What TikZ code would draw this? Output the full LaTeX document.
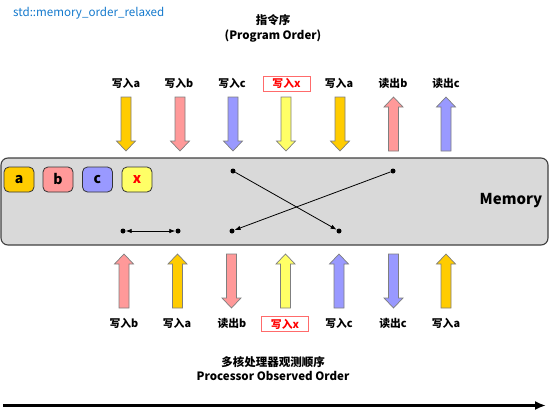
\documentclass[tikz,border=0pt]{standalone}
\usepackage{fontspec}
\setmainfont{Noto Sans CJK SC}
\usetikzlibrary{arrows.meta}
\definecolor{cgold}{HTML}{FFCC00}
\definecolor{cpink}{HTML}{FF9999}
\definecolor{cblue}{HTML}{9999FF}
\definecolor{cyel}{HTML}{FFFF66}
\definecolor{cborder}{HTML}{7F7F7F}
\definecolor{cmem}{HTML}{D9D9D9}
\definecolor{ctitle}{HTML}{1278CC}
\definecolor{cboxred}{HTML}{FF6B6B}
\tikzset{
  lbl/.style={font=\bfseries\fontsize{10.8}{12}\selectfont, inner sep=1pt},
  redlbl/.style={lbl, text=red, draw=cboxred, fill=white, minimum width=47pt, minimum height=15pt, line width=0.7pt},
  title/.style={font=\bfseries\fontsize{11.5}{13}\selectfont, inner sep=0pt},
  memcell/.style={draw=black!80, rounded corners=5pt, minimum width=30pt, minimum height=25pt, line width=0.8pt, font=\bfseries\fontsize{14}{16}\selectfont},
  dot/.style={circle, fill=black, inner sep=0pt, minimum size=5pt},
  conn/.style={-{Latex[length=6pt,width=4.5pt]}, line width=0.8pt},
  downarrow/.pic={\path[pic actions] (-5,-27) -- (5,-27) -- (5,17) -- (9.5,17) -- (0,27) -- (-9.5,17) -- (-5,17) -- cycle;},
  uparrow/.pic={\path[pic actions] (-5,27) -- (5,27) -- (5,-17) -- (9.5,-17) -- (0,-27) -- (-9.5,-17) -- (-5,-17) -- cycle;},
  arr/.style={draw=cborder, line width=0.7pt, fill=#1},
}
\begin{document}
\begin{tikzpicture}[x=1pt,y=-1pt]
\useasboundingbox (0,0) rectangle (552,415);
% header
\node[anchor=west, text=ctitle, font=\fontsize{11.6}{13}\selectfont, inner sep=0pt] (hdr) at (13,13) {std::memory\_order\_relaxed};
\node[title] (t1) at (273,20) {指令序};
\node[title] (t2) at (273,36) {(Program Order)};
% top labels
\node[lbl] (l1) at (126,83) {写入a};
\node[lbl] (l2) at (179,83) {写入b};
\node[lbl] (l3) at (232,83) {写入c};
\node[redlbl] (l4) at (286.5,83.5) {写入x};
\node[lbl] (l5) at (339,83) {写入a};
\node[lbl] (l6) at (393,83) {读出b};
\node[lbl] (l7) at (446,83) {读出c};
% top arrows
\pic[arr=cgold] at (126,124) {downarrow};
\pic[arr=cpink] at (180,124) {downarrow};
\pic[arr=cblue] at (233,124) {downarrow};
\pic[arr=cyel] at (286,124) {downarrow};
\pic[arr=cgold] at (340,124) {downarrow};
\pic[arr=cpink] at (393.5,124) {uparrow};
\pic[arr=cblue] at (446,124) {uparrow};
% memory
\node[draw=black!75, fill=cmem, rounded corners=7pt, line width=1.1pt, minimum width=547pt, minimum height=87pt, inner sep=0pt] (mem) at (274.5,201.5) {};
\node[font=\bfseries\fontsize{15}{17}\selectfont, inner sep=0pt] (memlbl) at (511,201) {Memory};
\node[memcell, fill=cgold] (ca) at (19,179.5) {a};
\node[memcell, fill=cpink] (cb) at (58,179.5) {b};
\node[memcell, fill=cblue] (cc) at (97.5,179.5) {c};
\node[memcell, fill=cyel, text=red] (cx) at (137,179.5) {x};
% dots and connectors
\node[dot] (d1) at (233,171) {};
\node[dot] (d2) at (393,171) {};
\node[dot] (d3) at (123,231) {};
\node[dot] (d4) at (178,231) {};
\node[dot] (d5) at (232,231) {};
\node[dot] (d6) at (339,231) {};
\draw[conn] (d1) -- (d6);
\draw[conn] (d2) -- (d5);
\draw[conn, {Latex[length=6pt,width=4.5pt]}-{Latex[length=6pt,width=4.5pt]}] (d3) -- (d4);
% bottom arrows
\pic[arr=cpink] at (124,281) {uparrow};
\pic[arr=cgold] at (177.5,281) {uparrow};
\pic[arr=cpink] at (231.5,281) {downarrow};
\pic[arr=cyel] at (285.5,281) {uparrow};
\pic[arr=cblue] at (339,281) {uparrow};
\pic[arr=cblue] at (393.5,281) {downarrow};
\pic[arr=cgold] at (446,281) {uparrow};
% bottom labels
\node[lbl] (b1) at (124,323) {写入b};
\node[lbl] (b2) at (177,323) {写入a};
\node[lbl] (b3) at (232,323) {读出b};
\node[redlbl] (b4) at (285,324) {写入x};
\node[lbl] (b5) at (339,323) {写入c};
\node[lbl] (b6) at (393,323) {读出c};
\node[lbl] (b7) at (446,323) {写入a};
% bottom titles
\node[title] (bt1) at (273,362) {多核处理器观测顺序};
\node[title] (bt2) at (273,376) {Processor Observed Order};
% timeline
\coordinate (ts) at (3,405.5);
\coordinate (te) at (546,405.5);
\draw[line width=2.4pt, -{Latex[length=11pt,width=9pt]}] (ts) -- (te);
\end{tikzpicture}
\end{document}
